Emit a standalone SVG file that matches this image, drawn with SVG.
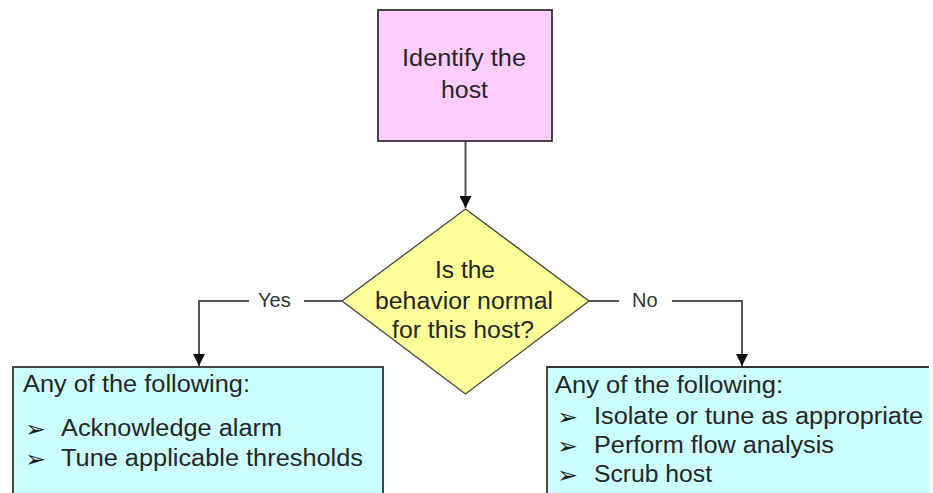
<svg xmlns="http://www.w3.org/2000/svg" width="933" height="493" viewBox="0 0 933 493">
<defs>
<style>
.t{font-family:"Liberation Sans",Arial,sans-serif;font-size:23px;fill:#262626}
.lbl{font-family:"Liberation Sans",Arial,sans-serif;font-size:20px;fill:#333}
.b{font-family:"DejaVu Sans",sans-serif;font-size:23px;fill:#1a1a1a}
.edge{fill:none;stroke:#555;stroke-width:2}
.shape{stroke:#333;stroke-width:1.8}
</style>
<marker id="ah" markerWidth="12" markerHeight="12" refX="10" refY="5" orient="auto" markerUnits="userSpaceOnUse" viewBox="0 0 10 10">
<path d="M0,0 L10,5 L0,10 z" fill="#111"/>
</marker>
</defs>
<rect width="933" height="493" fill="#fff"/>
<g id="connectors">
<path class="edge" d="M465.5,141 V208" stroke="#222" marker-end="url(#ah)"/>
<path class="edge" d="M342,301 H304 M249,301 H199 V366" marker-end="url(#ah)"/>
<path class="edge" d="M589,301 H619 M672,301 H742 V366" marker-end="url(#ah)"/>
<text class="lbl" x="258" y="307">Yes</text>
<text class="lbl" x="632" y="307">No</text>
</g>
<g id="identify">
<rect x="378" y="10" width="174" height="131" fill="#FFCCFF" class="shape"/>
<text class="t" x="402" y="66" textLength="124" lengthAdjust="spacingAndGlyphs">Identify the</text>
<text class="t" x="441" y="98" textLength="47" lengthAdjust="spacingAndGlyphs">host</text>
</g>
<g id="decision">
<polygon points="465.5,209 589,301 465.5,394 342,301" fill="#FFFF99" stroke="#444" stroke-width="1.3"/>
<text class="t" x="435" y="278" textLength="60" lengthAdjust="spacingAndGlyphs">Is the</text>
<text class="t" x="375" y="309" textLength="178" lengthAdjust="spacingAndGlyphs">behavior normal</text>
<text class="t" x="392" y="338" textLength="142" lengthAdjust="spacingAndGlyphs">for this host?</text>
</g>
<g id="yes-actions">
<rect x="13" y="367" width="370" height="140" fill="#CCFFFF" class="shape"/>
<text class="t" x="23" y="392" textLength="227" lengthAdjust="spacingAndGlyphs">Any of the following:</text>
<text class="b" x="25" y="437" textLength="21" lengthAdjust="spacingAndGlyphs">➢</text>
<text class="t" x="61" y="436" textLength="221" lengthAdjust="spacingAndGlyphs">Acknowledge alarm</text>
<text class="b" x="25" y="467" textLength="21" lengthAdjust="spacingAndGlyphs">➢</text>
<text class="t" x="61" y="466" textLength="302" lengthAdjust="spacingAndGlyphs">Tune applicable thresholds</text>
</g>
<g id="no-actions">
<rect x="547" y="367" width="382" height="130" fill="#CCFFFF"/>
<path d="M547,497 V367 H929" fill="none" class="shape"/>
<text class="t" x="555" y="393" textLength="228" lengthAdjust="spacingAndGlyphs">Any of the following:</text>
<text class="b" x="557" y="425" textLength="21" lengthAdjust="spacingAndGlyphs">➢</text>
<text class="t" x="594" y="424" textLength="329" lengthAdjust="spacingAndGlyphs">Isolate or tune as appropriate</text>
<text class="b" x="557" y="454" textLength="21" lengthAdjust="spacingAndGlyphs">➢</text>
<text class="t" x="594" y="453" textLength="240" lengthAdjust="spacingAndGlyphs">Perform flow analysis</text>
<text class="b" x="557" y="483" textLength="21" lengthAdjust="spacingAndGlyphs">➢</text>
<text class="t" x="594" y="482" textLength="118" lengthAdjust="spacingAndGlyphs">Scrub host</text>
</g>
</svg>
